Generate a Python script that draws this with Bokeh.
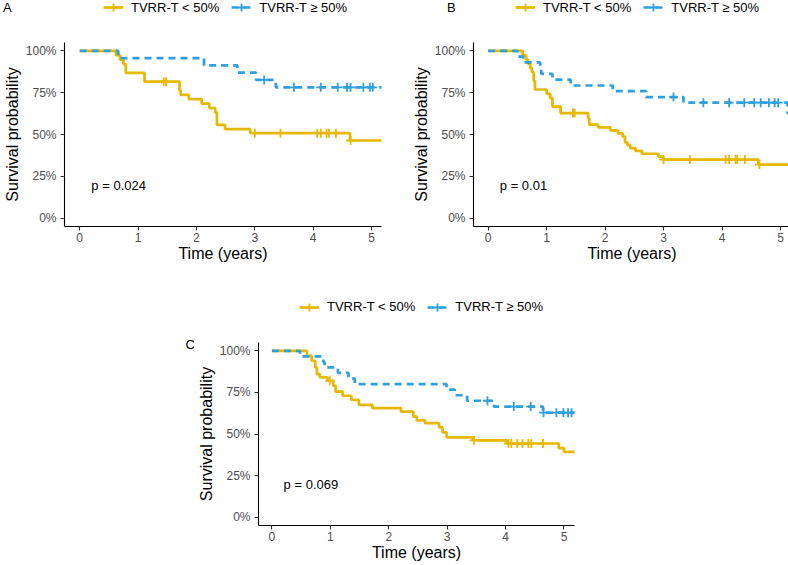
import numpy as np
from bokeh.plotting import figure
from bokeh.layouts import column, row
from bokeh.models import Legend, LegendItem, Label, FixedTicker, Spacer, Range1d
from bokeh.embed import file_html
from bokeh.resources import INLINE

GOLD = "#E7B800"
BLUE = "#2E9FDF"
FONT = "Liberation Sans"

# ---------------- data ----------------
group_labels = ["TVRR-T < 50%", "TVRR-T \u2265 50%"]
panel_letters = ["A", "B", "C"]
p_values = ["p = 0.024", "p = 0.01", "p = 0.069"]
x_ticks = [0, 1, 2, 3, 4, 5]
y_ticks = [0, 25, 50, 75, 100]
y_tick_labels = ["0%", "25%", "50%", "75%", "100%"]
follow_up_end = 5.25

# Panel A
a_low_t = [0, 0.62, 0.69, 0.75, 0.79, 1.11, 1.71, 1.73, 1.87, 2.09, 2.22, 2.32, 2.35, 2.49, 2.92, 4.63]
a_low_s = [100, 97.4, 94.7, 92.1, 86.8, 81.6, 76.3, 73.7, 71.1, 68.4, 65.8, 63.2, 55.8, 53.2, 50.8, 46.4]
a_low_cens = [1.44, 1.48, 3.0, 3.44, 4.07, 4.13, 4.23, 4.27, 4.39, 4.64]
a_high_t = [0, 0.66, 2.13, 2.70, 3.02, 3.36]
a_high_s = [100, 95.7, 91.3, 87.0, 82.6, 78.2]
a_high_cens = [3.16, 3.67, 4.13, 4.42, 4.58, 4.64, 4.86, 4.97, 5.02]

# Panel B
b_low_t = [0, 0.59, 0.65, 0.68, 0.72, 0.75, 0.78, 0.80, 1.00, 1.06, 1.10, 1.24, 1.71, 1.73,
           1.88, 2.09, 2.22, 2.30, 2.34, 2.38, 2.43, 2.52, 2.63, 2.91, 2.99, 4.62]
b_low_s = [100, 97.4, 94.9, 92.3, 89.7, 87.2, 82.0, 76.9, 74.4, 71.8, 66.7, 62.8, 59.5, 55.9,
           54.2, 52.5, 50.7, 48.8, 45.3, 43.7, 41.8, 40.2, 38.5, 36.8, 35.0, 32.0]
b_low_cens = [1.45, 1.48, 3.0, 3.45, 4.06, 4.12, 4.23, 4.26, 4.39, 4.64]
b_high_t = [0, 0.50, 0.60, 0.89, 0.91, 1.10, 1.41, 2.13, 2.70, 3.34, 5.12]
b_high_s = [100, 96.6, 93.1, 89.7, 86.2, 82.8, 79.3, 75.9, 72.4, 69.0, 62.7]
b_high_cens = [3.17, 3.68, 4.12, 4.38, 4.55, 4.66, 4.80, 4.90, 4.96]

# Panel C
c_low_t = [0, 0.60, 0.68, 0.74, 0.77, 0.82, 0.95, 1.05, 1.09, 1.21, 1.36, 1.49, 1.72, 2.21,
           2.42, 2.48, 2.62, 2.86, 2.92, 2.99, 3.44, 4.02, 4.91, 5.00]
c_low_s = [100, 97, 94, 90, 86, 84, 82, 79, 75.5, 73, 70.5, 67.5, 65.5, 63.4,
           60.5, 58.2, 56.5, 54, 51, 48, 46.2, 44.3, 41.5, 39.2]
c_low_cens = [0.99, 3.46, 4.05, 4.10, 4.20, 4.29, 4.39, 4.44, 4.64]
c_high_t = [0, 0.48, 0.88, 0.90, 1.13, 1.31, 1.42, 2.99, 3.13, 3.34, 3.80, 4.64]
c_high_s = [100, 96.7, 93.3, 90.0, 86.7, 83.3, 80.0, 76.7, 73.3, 70.0, 66.5, 62.8]
c_high_cens = [3.69, 4.14, 4.43, 4.65, 4.87, 4.99, 5.07, 5.13]

STYLES = [dict(color=GOLD, dash="solid"), dict(color=BLUE, dash="7 5")]
LINE_W = 2.7


def surv_at(times, surv, t):
    idx = np.searchsorted(np.asarray(times), np.asarray(t), side="right") - 1
    return np.asarray(surv)[idx]


def blank_fig(w, h):
    f = figure(frame_width=w, frame_height=h, min_border=0,
               x_range=Range1d(0, w), y_range=Range1d(0, h),
               x_axis_location=None, y_axis_location=None,
               output_backend="svg", toolbar_location=None, tools="")
    f.outline_line_color = None
    f.grid.visible = False
    f.background_fill_color = "white"
    f.border_fill_color = "white"
    return f


def text_label(x, y, text, size="13px"):
    return Label(x=x, y=y, text=text, text_font=FONT, text_font_size=size,
                 text_color="black", text_baseline="middle", text_align="left")


def legend_box(items, loc, glyph_w, standoff):
    return Legend(items=items, orientation="horizontal", location=loc,
                  margin=0, padding=0, spacing=12, label_standoff=standoff,
                  glyph_width=glyph_w, glyph_height=22, label_height=22,
                  label_text_font=FONT, label_text_font_size="13px",
                  label_text_color="black",
                  border_line_color=None, background_fill_alpha=0)


def header(w, h, legend_xy, series, letter=None, letter_xy=None):
    f = blank_fig(w, h)
    items = []
    for st, lab, (t, s, _c) in zip(STYLES, group_labels, series):
        # key glyphs: anchored on the first curve point, which lies outside this strip
        r1 = f.step(x=t[:1], y=s[:1], mode="after", line_color=st["color"],
                    line_width=LINE_W, line_dash=st["dash"])
        r2 = f.scatter(x=t[:1], y=s[:1], marker="cross", size=9,
                       line_color=st["color"], line_width=1.8)
        items.append(LegendItem(label=lab, renderers=[r1, r2]))
    f.add_layout(legend_box(items, legend_xy, 20, 8))
    if letter is not None:
        blank = f.scatter(x=[], y=[], size=0)
        f.add_layout(legend_box([LegendItem(label=letter, renderers=[blank])],
                                letter_xy, 0, 0))
    return f


def km_panel(pval, low, high, xr, bl, fw, br, bt, fh, bb):
    p = figure(frame_width=fw, frame_height=fh,
               min_border_left=bl, min_border_right=br,
               min_border_top=bt, min_border_bottom=bb,
               x_range=Range1d(*xr), y_range=Range1d(-5, 105),
               output_backend="svg", toolbar_location=None, tools="")
    p.outline_line_color = None
    p.grid.visible = False
    p.background_fill_color = "white"
    p.border_fill_color = "white"

    for (t, s, cens), st in zip([low, high], STYLES):
        p.step(x=list(t) + [follow_up_end], y=list(s) + [s[-1]], mode="after",
               line_color=st["color"], line_width=LINE_W, line_dash=st["dash"])
        cy = surv_at(t, s, cens)
        p.scatter(x=cens, y=cy, marker="cross", size=9,
                  line_color=st["color"], line_width=1.8)

    p.add_layout(text_label(0.2, 19.5, pval))

    for ax in (p.xaxis[0], p.yaxis[0]):
        ax.axis_line_color = "black"
        ax.axis_line_width = 1.1
        ax.major_tick_line_color = "#333333"
        ax.major_tick_line_width = 1.1
        ax.major_tick_out = 4
        ax.major_tick_in = 0
        ax.minor_tick_out = 0
        ax.minor_tick_in = 0
        ax.major_label_text_font = FONT
        ax.major_label_text_font_size = "12px"
        ax.major_label_text_color = "#4D4D4D"
        ax.axis_label_text_font = FONT
        ax.axis_label_text_font_size = "16px"
        ax.axis_label_text_font_style = "normal"
        ax.axis_label_text_color = "black"

    p.xaxis.ticker = FixedTicker(ticks=x_ticks)
    p.xaxis.axis_label = "Time (years)"
    p.xaxis.major_label_standoff = 2
    p.xaxis.axis_label_standoff = 0

    p.yaxis.ticker = FixedTicker(ticks=y_ticks)
    p.yaxis.major_label_overrides = {k: v for k, v in zip(y_ticks, y_tick_labels)}
    p.yaxis.axis_label = "Survival probability"
    p.yaxis.major_label_standoff = 4
    p.yaxis.axis_label_standoff = 2
    return p


A_low, A_high = (a_low_t, a_low_s, a_low_cens), (a_high_t, a_high_s, a_high_cens)
B_low, B_high = (b_low_t, b_low_s, b_low_cens), (b_high_t, b_high_s, b_high_cens)
C_low, C_high = (c_low_t, c_low_s, c_low_cens), (c_high_t, c_high_s, c_high_cens)

# row 1 : panels A and B (header 30 px + plot 240 px)
hA = header(394, 30, (42 + 61, 12), [A_low, A_high], panel_letters[0], (3, 12))
pA = km_panel(p_values[0], A_low, A_high, (-0.26, 5.17), 61, 317, 16, 12, 184, 44)
hB = header(394, 30, (42 + 76, 12), [B_low, B_high], panel_letters[1], (50, 12))
pB = km_panel(p_values[1], B_low, B_high, (-0.25, 5.17), 76, 317, 1, 12, 184, 44)

# row 2 : panel C (letter column 14 px, header 50 px + plot 245 px)
letC = blank_fig(14, 295)
letC.add_layout(text_label(5, 221, panel_letters[2]))
hC = header(396, 50, (42 + 63, 2.5), [C_low, C_high])
pC = km_panel(p_values[2], C_low, C_high, (-0.23, 5.18), 63, 316, 17, 22, 183, 40)

layout = column(
    row(column(hA, pA), column(hB, pB)),
    row(Spacer(width=180, height=295), letC, column(hC, pC)),
    styles={"position": "absolute", "left": "0px", "top": "0px"})

open("out.html", "w").write(file_html(layout, INLINE))
